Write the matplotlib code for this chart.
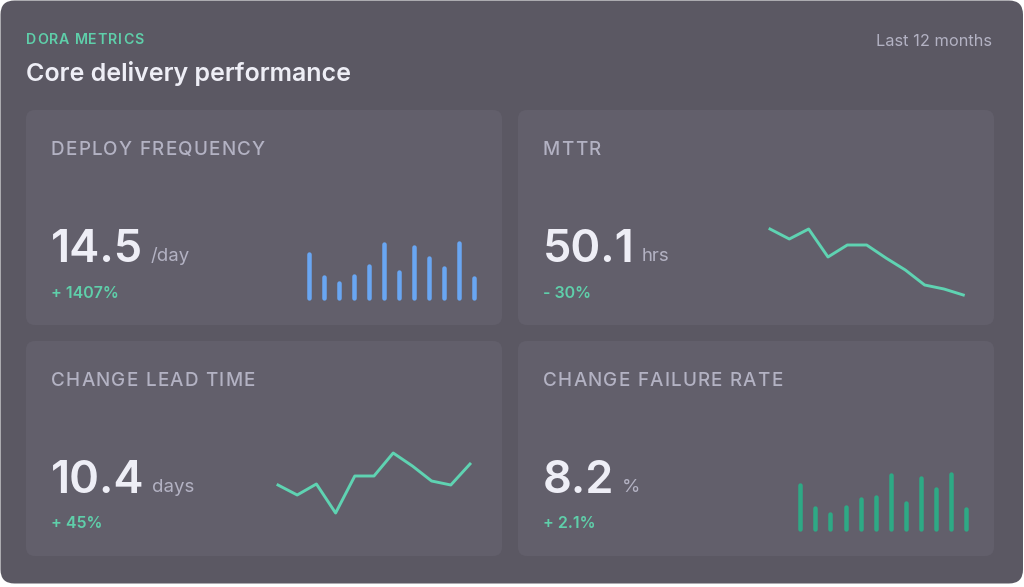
import matplotlib.pyplot as plt
from matplotlib.patches import FancyBboxPatch

W, H = 1024, 587

eyebrow = 'DORA METRICS'
headline = 'Core delivery performance'
period = 'Last 12 months'

metric_titles = ['DEPLOY FREQUENCY', 'MTTR', 'CHANGE LEAD TIME', 'CHANGE FAILURE RATE']
metric_values = ['14.5', '50.1', '10.4', '8.2']
metric_units = ['/day', 'hrs', 'days', '%']
metric_deltas = ['+ 1407%', '- 30%', '+ 45%', '+ 2.1%']

# sparkline series (arbitrary units)
deploy_bars = [48, 25, 19, 26, 36, 58, 30, 55, 44, 34, 59, 24]
mttr_line = [71, 61, 71, 43, 55, 55, 42, 30, 15, 11, 5]
lead_line = [35, 25, 36, 7, 44, 44, 67, 54, 39, 35, 56]
failure_bars = [48, 25, 19, 26, 34, 36, 58, 30, 55, 44, 59, 24]

BG = '#5b5863'
PANEL = '#625f6b'
TEAL = '#5fcfaa'
WHITE = '#eeeef6'
GREY = '#b3b2c3'
BLUE = '#69a6f2'
GREEN = '#2ea985'
LINE = '#5fd3b2'

plt.rcParams['font.family'] = ['Inter', 'DejaVu Sans']

fig = plt.figure(figsize=(W / 100, H / 100), dpi=100, facecolor='white')
bg = fig.add_axes([0, 0, 1, 1])
bg.set_xlim(0, W)
bg.set_ylim(H, 0)
bg.axis('off')

bg.add_patch(FancyBboxPatch((0.5, 0.5), 1022.5, 583, boxstyle='round,pad=0,rounding_size=14',
                            fc=BG, ec='none'))

renderer = fig.canvas.get_renderer()


def text_width(s, **kw):
    t = bg.text(0, 0, s, **kw)
    w = t.get_window_extent(renderer).width
    t.remove()
    return w


def spaced(x, y, s, track, **kw):
    # crude letter-spacing: place each glyph where it falls in the full string
    for i, ch in enumerate(s):
        if ch == ' ':
            continue
        xi = x + text_width(s[:i + 1], **kw) - text_width(ch, **kw) + track * i
        bg.text(xi, y, ch, va='baseline', ha='left', **kw)


spaced(26, 43.5, eyebrow, 0.9, fontsize=10.2, fontweight='semibold', color=TEAL)
bg.text(26, 80.5, headline, fontsize=18, fontweight='semibold', color=WHITE, va='baseline')
bg.text(992, 46, period, fontsize=11.8, color=GREY, va='baseline', ha='right')

panel_pos = [(26, 110), (518, 110), (26, 341), (518, 341)]
for (px, py), title, val, unit, delta in zip(panel_pos, metric_titles, metric_values,
                                             metric_units, metric_deltas):
    bg.add_patch(FancyBboxPatch((px, py), 476, 215, boxstyle='round,pad=0,rounding_size=9',
                                fc=PANEL, ec='none'))
    spaced(px + 25, py + 45, title, 1.2, fontsize=13.6, fontweight='medium', color=GREY)
    num = bg.text(px + 25, py + 152, val, fontsize=32.6, fontweight='semibold', color=WHITE,
                  va='baseline')
    right = num.get_window_extent(renderer).x1
    bg.text(right + 7, py + 151, unit, fontsize=13.4, color=GREY, va='baseline')
    bg.text(px + 25, py + 187.5, delta, fontsize=11.5, fontweight='semibold', color=TEAL,
            va='baseline')


def spark_axes(x0, y0, x1, y1):
    ax = fig.add_axes([x0 / W, 1 - y1 / H, (x1 - x0) / W, (y1 - y0) / H])
    ax.axis('off')
    ax.patch.set_alpha(0)
    return ax


bar_lw = 4.5  # px
cap = bar_lw / 2

ax1 = spark_axes(301, 240, 481.5, 300)
ax1.set_xlim(-0.5, len(deploy_bars) - 0.5)
ax1.set_ylim(0, 60)
ax1.vlines(range(len(deploy_bars)), cap, [v - cap for v in deploy_bars], colors=BLUE,
           linewidth=bar_lw * 0.72, capstyle='round', clip_on=False)

ax4 = spark_axes(792.8, 471, 973.5, 531)
ax4.set_xlim(-0.5, len(failure_bars) - 0.5)
ax4.set_ylim(0, 60)
ax4.vlines(range(len(failure_bars)), cap, [v - cap for v in failure_bars], colors=GREEN,
           linewidth=bar_lw * 0.72, capstyle='round', clip_on=False)

ax2 = spark_axes(770, 225, 963.3, 300)
ax2.set_xlim(0, len(mttr_line) - 1)
ax2.set_ylim(0, 75)
ax2.plot(range(len(mttr_line)), mttr_line, color=LINE, linewidth=2.1, clip_on=False)

ax3 = spark_axes(278, 445, 470, 520)
ax3.set_xlim(0, len(lead_line) - 1)
ax3.set_ylim(0, 75)
ax3.plot(range(len(lead_line)), lead_line, color=LINE, linewidth=2.1, clip_on=False)

fig.savefig('out.png', dpi=100, facecolor='white')
